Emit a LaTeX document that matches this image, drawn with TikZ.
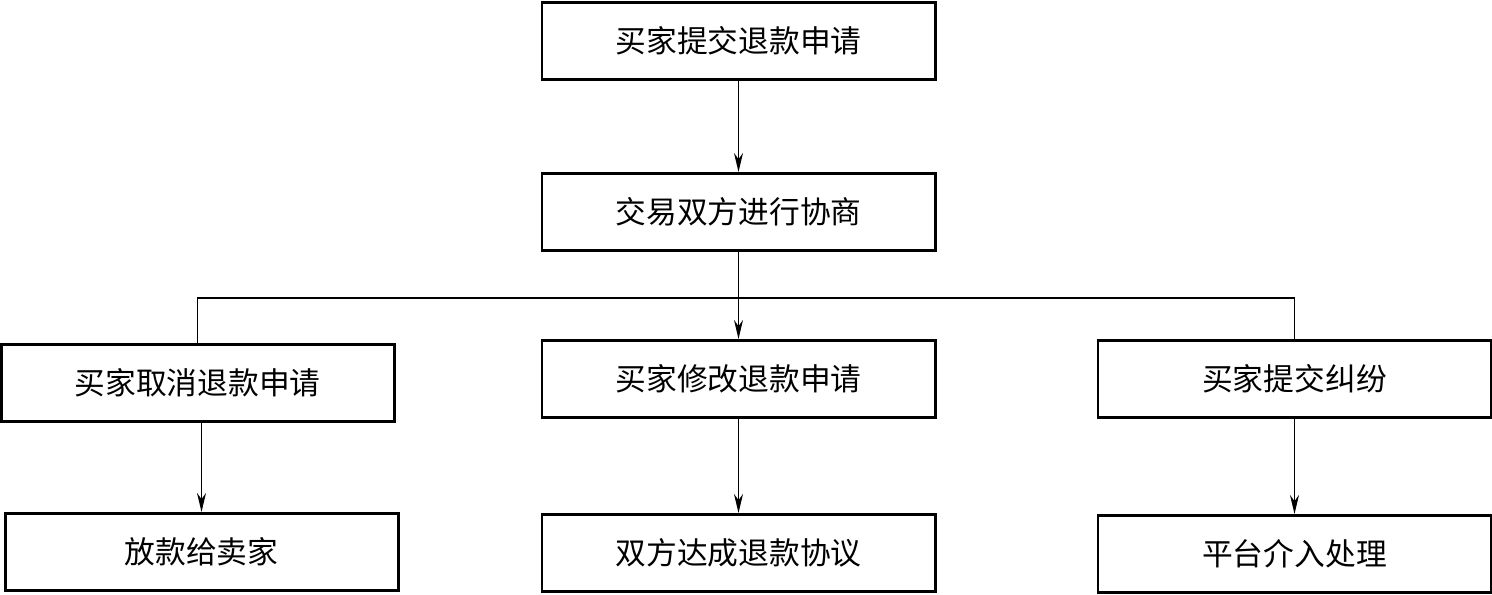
\documentclass[tikz,border=0pt]{standalone}
\usepackage{fontspec}
\newfontfamily\cjk{Noto Sans CJK SC}
\usepackage{tikz}
\usetikzlibrary{positioning, arrows.meta, calc}
\tikzset{
  process/.style={rectangle, minimum width=7.86cm, minimum height=1.54cm, text centered, draw=black, line width=1.7pt, font=\cjk\fontsize{17.5}{20}\selectfont},
  arrow/.style={line width=0.9pt, -{Stealth[length=0.38cm, width=0.18cm]}},
  line/.style={line width=0.9pt}
}
\begin{document}
\begin{tikzpicture}
            \useasboundingbox (0,0) rectangle (29.84,-11.9);
            \node (submit) [process] at (14.77,-0.82) {买家提交退款申请};
            \node (negotiate) [process, below=1.82cm of submit] {交易双方进行协商};
            \node (modify) [process, below=1.74cm of negotiate] {买家修改退款申请};
            \node (cancel) [process, left=2.90cm of modify, yshift=-0.08cm] {买家取消退款申请};
            \node (dispute) [process, right=3.20cm of modify] {买家提交纠纷};
            \node (release) [process, below=1.78cm of cancel, xshift=0.08cm] {放款给卖家};
            \node (agree) [process, below=1.88cm of modify] {双方达成退款协议};
            \node (platform) [process, below=1.90cm of dispute] {平台介入处理};
            \coordinate (split) at ($(negotiate.south)+(0,-0.92)$);

            \draw [arrow] (submit) -- (negotiate);
            \draw [arrow] (negotiate) -- (modify);
            % --- ramas laterales sin punta ---
            \draw [line] (cancel.north) |- (split) -| (dispute.north);
            \draw [arrow] (cancel.south -| release.north) -- (release);
            \draw [arrow] (modify) -- (agree);
            \draw [arrow] (dispute) -- (platform);
\end{tikzpicture}
\end{document}
